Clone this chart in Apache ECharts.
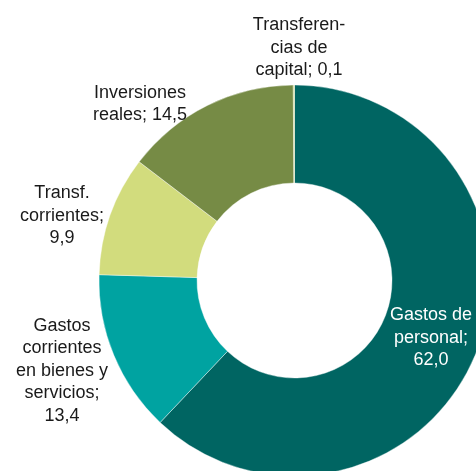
<!DOCTYPE html>
<html>
<head>
<meta charset="utf-8">
<script src="https://cdn.jsdelivr.net/npm/echarts@6/dist/echarts.min.js"></script>
<style>
  html, body { margin: 0; padding: 0; background: #fff; }
  #chart { width: 476px; height: 471px; }
</style>
</head>
<body>
<div id="chart"></div>
<script>
// Budget breakdown by chapter (percent of total)
const categories = [
  'Gastos de personal',
  'Gastos corrientes en bienes y servicios',
  'Transf. corrientes',
  'Inversiones reales',
  'Transferencias de capital'
];
const values = [62.0, 13.4, 9.9, 14.5, 0.1];
const labelLines = [
  ['Gastos de', 'personal;', '62,0'],
  ['Gastos', 'corrientes', 'en bienes y', 'servicios;', '13,4'],
  ['Transf.', 'corrientes;', '9,9'],
  ['Inversiones', 'reales; 14,5'],
  ['Transferen-', 'cias de', 'capital; 0,1']
];

const colors = ['#006562', '#00a3a1', '#d2dc7d', '#768b45', '#c5d27a'];
const labelColors = ['#ffffff', '#1a1a1a', '#1a1a1a', '#1a1a1a', '#1a1a1a'];
// label anchor points (centre of each text block)
const labelAnchors = [[431, 338], [62, 371], [62, 216], [140, 104], [299, 48]];

const chart = echarts.init(document.getElementById('chart'), null, { renderer: 'canvas' });
chart.setOption({
  animation: false,
  backgroundColor: '#ffffff',
  series: [{
    type: 'pie',
    center: [294.5, 280.5],
    radius: [97.5, 195.5],
    startAngle: 90,
    clockwise: true,
    avoidLabelOverlap: false,
    minAngle: 0,
    itemStyle: { borderColor: '#ffffff', borderWidth: 0.4 },
    label: {
      show: true,
      position: 'outside',
      fontFamily: 'Liberation Sans, Arial, sans-serif',
      fontSize: 18,
      lineHeight: 22.5,
      align: 'center',
      formatter: p => labelLines[p.dataIndex].join('\n')
    },
    labelLine: { show: false },
    labelLayout: p => ({
      x: labelAnchors[p.dataIndex][0],
      y: labelAnchors[p.dataIndex][1],
      align: 'center',
      verticalAlign: 'middle',
      hideOverlap: false
    }),
    emphasis: { disabled: true },
    data: categories.map((name, i) => ({
      name,
      value: values[i],
      itemStyle: { color: colors[i] },
      label: { color: labelColors[i] }
    }))
  }]
});
</script>
</body>
</html>
